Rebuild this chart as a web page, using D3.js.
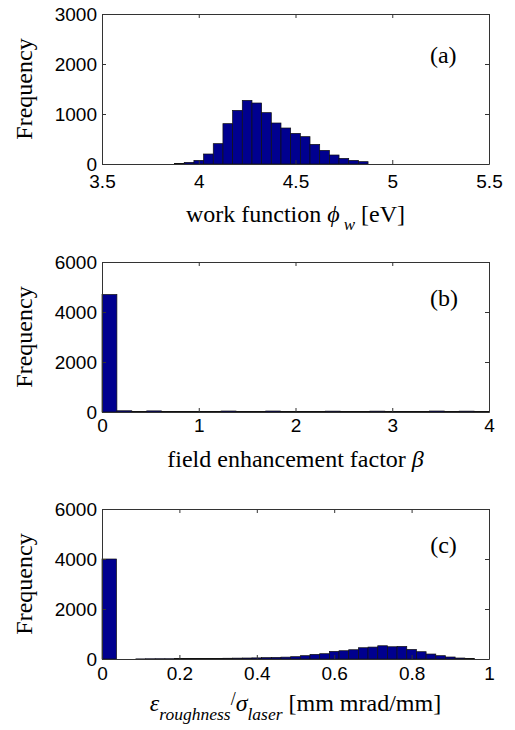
<!DOCTYPE html>
<html>
<head>
<meta charset="utf-8">
<script src="https://cdn.jsdelivr.net/npm/d3@7"></script>
<style>
  body { margin: 0; background: #fff; }
  .tick text { font-family: "Liberation Sans", Arial, sans-serif; font-size: 19px; fill: #000; }
  .lab { font-family: "Liberation Serif", "Times New Roman", serif; font-size: 24px; fill: #000; }
</style>
</head>
<body>
<div id="chart-container"></div>
<script>
// work function histogram (bin edges, counts)
const wfEdges = [3.875, 3.925, 3.975, 4.025, 4.075, 4.125, 4.175, 4.225, 4.275, 4.325, 4.375,
  4.425, 4.475, 4.525, 4.575, 4.625, 4.675, 4.725, 4.775, 4.825, 4.875];
const wfCounts = [13, 33, 73, 200, 407, 807, 1073, 1273, 1220, 1027, 820, 720, 613, 547, 393,
  273, 180, 113, 73, 47];

// field enhancement factor histogram
const betaEdges = [0, 0.154, 0.308, 0.462, 0.615, 0.769, 0.923, 1.077, 1.231, 1.385, 1.538,
  1.692, 1.846, 2.0, 2.154, 2.308, 2.462, 2.615, 2.769, 2.923, 3.077, 3.231, 3.385, 3.538,
  3.692, 3.846, 4.0];
const betaCounts = [4700, 50, 20, 45, 18, 15, 15, 20, 40, 20, 15, 40, 15, 18, 20, 35, 15, 15,
  35, 15, 15, 18, 40, 15, 35, 15];

// roughness emittance ratio histogram
const roughEdges = [0, 0.0375, 0.0625, 0.0875, 0.1125, 0.1375, 0.1625, 0.1875, 0.2125, 0.2375,
  0.2625, 0.2875, 0.3125, 0.3375, 0.3625, 0.3875, 0.4125, 0.4375, 0.4625, 0.4875, 0.5125,
  0.5375, 0.5625, 0.5875, 0.6125, 0.6375, 0.6625, 0.6875, 0.7125, 0.7375, 0.7625, 0.7875,
  0.8125, 0.8375, 0.8625, 0.8875, 0.9125, 0.9375, 0.9625];
const roughCounts = [4000, 0, 0, 5, 10, 12, 12, 15, 18, 25, 25, 25, 30, 35, 40, 45, 55, 65, 75,
  93, 133, 186, 212, 305, 331, 371, 451, 477, 530, 490, 504, 384, 292, 199, 133, 80, 40, 20];

const wfTicks = [3.5, 4, 4.5, 5, 5.5];
const betaTicks = [0, 1, 2, 3, 4];
const roughTicks = [0, 0.2, 0.4, 0.6, 0.8, 1];
const freqTicks3 = [0, 1000, 2000, 3000];
const freqTicks6 = [0, 2000, 4000, 6000];

const panels = [
  { edges: wfEdges, counts: wfCounts, xDom: [3.5, 5.5], yDom: [0, 3000], xTicks: wfTicks,
    yTicks: freqTicks3, tag: "(a)", tagAt: [5.195, 2020], top: 14, pad: 11, labDy: 58 },
  { edges: betaEdges, counts: betaCounts, xDom: [0, 4], yDom: [0, 6000], xTicks: betaTicks,
    yTicks: freqTicks6, tag: "(b)", tagAt: [3.39, 4240], top: 262, pad: 7, labDy: 55 },
  { edges: roughEdges, counts: roughCounts, xDom: [0, 1], yDom: [0, 6000], xTicks: roughTicks,
    yTicks: freqTicks6, tag: "(c)", tagAt: [0.848, 4254], top: 509, pad: 8, labDy: 52 }
];

const W = 515, H = 730;
const left = 102, plotW = 387, plotH = 150;

const svg = d3.select("#chart-container")
  .append("svg")
  .attr("width", W)
  .attr("height", H);

const fmt = d => String(+d.toFixed(3));

panels.forEach((p, i) => {
  const g = svg.append("g").attr("transform", `translate(${left},${p.top})`);

  const x = d3.scaleLinear().domain(p.xDom).range([0, plotW]);
  const y = d3.scaleLinear().domain(p.yDom).range([plotH, 0]);

  const bins = p.counts.map((c, k) => ({ x0: p.edges[k], x1: p.edges[k + 1], n: c }));

  g.append("g")
    .selectAll("rect")
    .data(bins.filter(d => d.n > 0))
    .join("rect")
    .attr("x", d => x(d.x0))
    .attr("width", d => x(d.x1) - x(d.x0))
    .attr("y", d => y(d.n))
    .attr("height", d => y(0) - y(d.n))
    .attr("fill", "#00008f")
    .attr("stroke", "#111")
    .attr("stroke-width", 0.7);

  const axisStyle = sel => {
    sel.selectAll(".domain").attr("stroke", "#333");
    sel.selectAll(".tick line").attr("stroke", "#333");
  };

  g.append("g")
    .attr("transform", `translate(0,${plotH})`)
    .call(d3.axisBottom(x).tickValues(p.xTicks).tickFormat(fmt)
      .tickSizeInner(-4).tickSizeOuter(0).tickPadding(p.pad))
    .call(axisStyle);

  g.append("g")
    .call(d3.axisTop(x).tickValues(p.xTicks).tickFormat("")
      .tickSizeInner(-4).tickSizeOuter(0))
    .call(axisStyle);

  g.append("g")
    .call(d3.axisLeft(y).tickValues(p.yTicks).tickFormat(fmt)
      .tickSizeInner(-4).tickSizeOuter(0).tickPadding(5))
    .call(axisStyle);

  g.append("g")
    .attr("transform", `translate(${plotW},0)`)
    .call(d3.axisRight(y).tickValues(p.yTicks).tickFormat("")
      .tickSizeInner(-4).tickSizeOuter(0))
    .call(axisStyle);

  g.selectAll(".tick text").attr("font-family", null).attr("font-size", null);

  g.append("text")
    .attr("class", "lab")
    .attr("transform", `translate(${32 - left},${plotH / 2}) rotate(-90)`)
    .attr("text-anchor", "middle")
    .text("Frequency");

  g.append("text")
    .attr("class", "lab")
    .attr("x", x(p.tagAt[0]))
    .attr("y", y(p.tagAt[1]))
    .text(p.tag);

  const xl = g.append("text")
    .attr("class", "lab")
    .attr("x", plotW / 2)
    .attr("y", plotH + p.labDy)
    .attr("text-anchor", "middle");

  if (i === 0) {
    xl.append("tspan").text("work function ");
    xl.append("tspan").attr("font-style", "italic").text("\u03D5");
    xl.append("tspan").attr("font-style", "italic").attr("font-size", 17).attr("dx", 4).attr("dy", 8).text("w");
    xl.append("tspan").attr("dy", -8).text(" [eV]");
  } else if (i === 1) {
    xl.append("tspan").text("field enhancement factor ");
    xl.append("tspan").attr("font-style", "italic").text("\u03B2");
  } else {
    xl.append("tspan").attr("font-style", "italic").text("\u03B5");
    xl.append("tspan").attr("font-style", "italic").attr("font-size", 17.5).attr("dy", 9).text("roughness");
    xl.append("tspan").attr("font-size", 18).attr("dy", -15).text("/");
    xl.append("tspan").attr("font-style", "italic").attr("dy", 6).text("\u03C3");
    xl.append("tspan").attr("font-style", "italic").attr("font-size", 17.5).attr("dy", 9).text("laser");
    xl.append("tspan").attr("dy", -9).text(" [mm mrad/mm]");
  }
});
</script>
</body>
</html>
